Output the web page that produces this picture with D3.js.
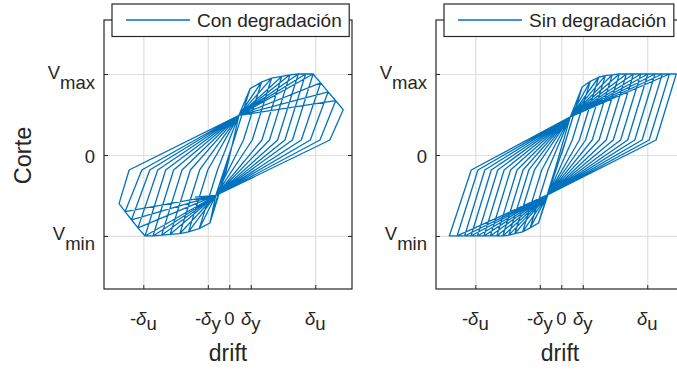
<!DOCTYPE html>
<html lang="es">
<head>
	<meta charset="utf-8">
	<title>Corte vs drift</title>
	<script src="https://d3js.org/d3.v7.min.js"></script>
	<style>
		body { margin: 0; background: #fff; }
		svg { display: block; }
		text { font-family: "Liberation Sans", Arial, sans-serif; fill: #262626; }
		.grid line { stroke: #dfdfdf; stroke-width: 1.2; }
		.grid path { display: none; }
		.ticks path { display: none; }
		.ticks line { stroke: #262626; }
		.loop { fill: none; stroke: #0072bd; stroke-width: 1.3; stroke-linejoin: round; }
	</style>
</head>
<body>
<svg id="chart" width="677" height="371"></svg>
<script>
// tick labels (drift in units of delta_y, shear in units of Vmax)
var xTicks = [-4, -1, 0, 1, 4];
var xTickMain = ['-δ', '-δ', '0', 'δ', 'δ'];
var xTickSub = ['u', 'y', '', 'y', 'u'];
var yTicks = [-1, 0, 1];
var yTickMain = ['V', '0', 'V'];
var yTickSub = ['min', '', 'max'];

// force where the unloading branch changes slope
var kinkForce = 0.185;

// "Con degradación" loops (negative half-cycle first)
var conPinchPos = [0.45, 0.49];
var conPinchNeg = [-0.63, -0.5];
var conPosDrift = [0.97, 1.5, 1.97, 2.44, 2.82, 3.21, 3.55, 3.9, 4.25, 4.6, 4.95, 5.3];
var conPosForce = [0.82, 0.9, 0.95, 0.97, 0.99, 1.0, 1.0, 1.0, 0.89, 0.78, 0.67, 0.56];
var conPosKink = [0.22, 0.66, 1.07, 1.52, 1.87, 2.25, 2.59, 2.94, 3.35, 3.77, 4.22, 4.68];
var conNegDrift = [-0.9, -1.4, -1.9, -2.3, -2.75, -3.15, -3.55, -3.92, -4.25, -4.55, -4.85, -5.13];
var conNegForce = [-0.84, -0.91, -0.95, -0.97, -0.98, -0.99, -1.0, -1.0, -0.9, -0.8, -0.7, -0.6];
var conNegKink = [-0.13, -0.55, -1.0, -1.38, -1.81, -2.2, -2.59, -2.96, -3.33, -3.7, -4.07, -4.66];
var conEnd = [-1.6, -0.52];

// "Sin degradación" loops (positive half-cycle first)
var sinPinchPos = [0.42, 0.47];
var sinPinchNeg = [-0.62, -0.49];
var sinPosDrift = [0.97, 1.35, 1.74, 2.05, 2.37, 2.7, 3.03, 3.36, 3.7, 4.03, 4.36, 4.7, 5.03, 5.35];
var sinPosForce = [0.84, 0.91, 0.96, 0.98, 0.99, 1, 1, 1, 1, 1, 1, 1, 1, 1];
var sinPosKink = [0.21, 0.51, 0.84, 1.13, 1.44, 1.76, 2.09, 2.42, 2.76, 3.09, 3.42, 3.76, 4.09, 4.41];
var sinNegDrift = [-1.06, -1.45, -1.8, -2.16, -2.44, -2.72, -3.0, -3.3, -3.6, -3.9, -4.2, -4.5, -4.85, -5.21];
var sinNegForce = [-0.84, -0.9, -0.95, -0.97, -0.99, -1, -1, -1, -1, -1, -1, -1, -1, -1];
var sinNegKink = [-0.3, -0.62, -0.91, -1.25, -1.51, -1.78, -2.06, -2.36, -2.66, -2.96, -3.26, -3.56, -3.88, -4.19];

var svg = d3.select('#chart');
var width = 248, height = 269;

var x = d3.scaleLinear().domain([-5.83, 5.71]).range([0, width]);
var y = d3.scaleLinear().domain([-1.655, 1.667]).range([height, 0]);

var line = d3.line()
	.x(function(d) { return x(d[0]); })
	.y(function(d) { return y(d[1]); });

// pinched loop, the reload goes through the pinch point to the previous peak
function loopPoints(first, second, firstPinch, secondPinch, end) {
	var pts = [[0, 0]];
	for (var i = 0; i < first.drift.length; i++) {
		if (i > 0) pts.push([first.drift[i - 1], first.force[i - 1]]);
		pts.push([first.drift[i], first.force[i]], [first.kink[i], first.kf], secondPinch);
		if (i > 0) pts.push([second.drift[i - 1], second.force[i - 1]]);
		pts.push([second.drift[i], second.force[i]], [second.kink[i], second.kf]);
		pts.push(firstPinch);
	}
	if (end) pts.push(end);
	return pts;
}

function panel(left, legendText, pts, showYLabel) {
	var g = svg.append('g').attr('transform', 'translate(' + left + ',20)');

	g.append('g').attr('class', 'grid')
		.attr('transform', 'translate(0,' + height + ')')
		.call(d3.axisBottom(x).tickValues(xTicks).tickSize(-height).tickFormat(''));
	g.append('g').attr('class', 'grid')
		.call(d3.axisLeft(y).tickValues(yTicks).tickSize(-width).tickFormat(''));

	var clip = 'clip' + Math.round(left);
	g.append('clipPath').attr('id', clip).append('rect')
		.attr('width', width).attr('height', height);

	g.append('path')
		.datum(pts)
		.attr('class', 'loop')
		.attr('clip-path', 'url(#' + clip + ')')
		.attr('d', line);

	// inward ticks on all four sides
	g.append('g').attr('class', 'ticks')
		.attr('transform', 'translate(0,' + height + ')')
		.call(d3.axisBottom(x).tickValues(xTicks).tickSizeInner(-4).tickSizeOuter(0).tickFormat(''));
	g.append('g').attr('class', 'ticks')
		.call(d3.axisTop(x).tickValues(xTicks).tickSizeInner(-4).tickSizeOuter(0).tickFormat(''));
	g.append('g').attr('class', 'ticks')
		.call(d3.axisLeft(y).tickValues(yTicks).tickSizeInner(-4).tickSizeOuter(0).tickFormat(''));
	g.append('g').attr('class', 'ticks')
		.attr('transform', 'translate(' + width + ',0)')
		.call(d3.axisRight(y).tickValues(yTicks).tickSizeInner(-4).tickSizeOuter(0).tickFormat(''));

	g.append('rect')
		.attr('width', width).attr('height', height)
		.attr('fill', 'none').attr('stroke', '#262626').attr('stroke-width', 1.2);

	// x tick labels
	xTicks.forEach(function(v, i) {
		var t = g.append('text')
			.attr('x', x(v)).attr('y', height + 36)
			.attr('text-anchor', 'middle')
			.style('font-size', '18.5px');
		if (xTickSub[i]) {
			var m = xTickMain[i];
			if (m.charAt(0) === '-') t.append('tspan').text('-');
			t.append('tspan').style('font-style', 'italic').text('δ');
			t.append('tspan').attr('dy', 5).text(xTickSub[i]);
		} else {
			t.text(xTickMain[i]);
		}
	});

	// y tick labels
	yTicks.forEach(function(v, i) {
		var t = g.append('text')
			.attr('x', -9).attr('text-anchor', 'end')
			.style('font-size', '18.5px');
		if (yTickSub[i]) {
			t.attr('y', y(v) + 4.5);
			t.append('tspan').text(yTickMain[i]);
			t.append('tspan').attr('dy', 10).text(yTickSub[i]);
		} else {
			t.attr('y', y(v) + 8.5).text(yTickMain[i]);
		}
	});

	g.append('text')
		.attr('x', width / 2).attr('y', height + 72)
		.attr('text-anchor', 'middle')
		.style('font-size', '23px')
		.text('drift');

	if (showYLabel) {
		g.append('text')
			.attr('transform', 'translate(' + (-left + 31) + ',' + (height / 2 + 1) + ') rotate(-90)')
			.attr('text-anchor', 'middle')
			.style('font-size', '23.5px')
			.text('Corte');
	}

	// legend
	var lg = g.append('g').attr('transform', 'translate(8,-16)');
	var box = lg.append('rect')
		.attr('height', 32.5)
		.attr('fill', '#fff').attr('stroke', '#262626').attr('stroke-width', 1.2);
	lg.append('line')
		.attr('x1', 14).attr('x2', 78).attr('y1', 16).attr('y2', 16)
		.attr('stroke', '#0072bd').attr('stroke-width', 1.3);
	var lt = lg.append('text')
		.attr('x', 85).attr('y', 23)
		.style('font-size', '19px')
		.text(legendText);
	box.attr('width', 85 + lt.node().getComputedTextLength() + 7.5);
}

var conPts = loopPoints(
	{drift: conNegDrift, force: conNegForce, kink: conNegKink, kf: -kinkForce},
	{drift: conPosDrift, force: conPosForce, kink: conPosKink, kf: kinkForce},
	conPinchNeg, conPinchPos, conEnd);

var sinPts = loopPoints(
	{drift: sinPosDrift, force: sinPosForce, kink: sinPosKink, kf: kinkForce},
	{drift: sinNegDrift, force: sinNegForce, kink: sinNegKink, kf: -kinkForce},
	sinPinchPos, sinPinchNeg, null);

panel(104, 'Con degradación', conPts, true);
panel(436, 'Sin degradación', sinPts, false);
</script>
</body>
</html>
